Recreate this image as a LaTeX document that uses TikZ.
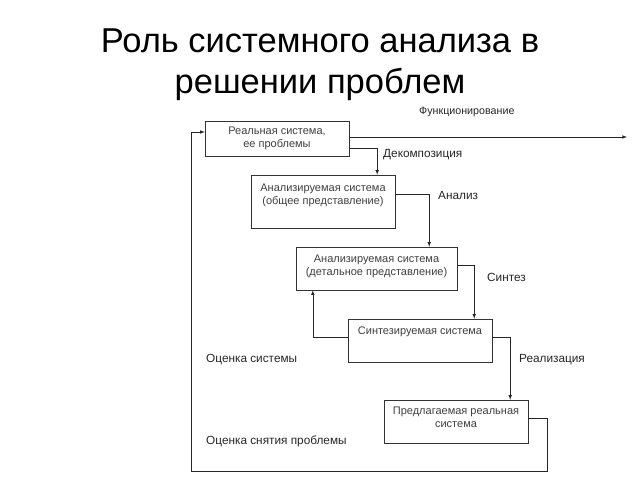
\documentclass[tikz,border=0pt]{standalone}
\usepackage{fontspec}
\setmainfont{Liberation Sans}
\usepackage{tikz}

\begin{document}
\begin{tikzpicture}[x=1pt, y=-1pt, >=latex, auto,
  box/.style={draw=black!80, fill=white, align=center, inner sep=0pt,
    minimum width=144pt, font=\fontsize{11}{13}\selectfont, text=black!75},
  lbl/.style={anchor=west, inner sep=0pt, font=\fontsize{11.8}{14}\selectfont, text=black!85},
  line/.style={draw=black!85, line width=0.6pt}]

  \useasboundingbox (0, 0) rectangle (640, 480);

  % title
  \node[anchor=base, font=\fontsize{34.5}{41}\selectfont] (title1) at (320, 52) {Роль системного анализа в};
  \node[anchor=base, font=\fontsize{34.5}{41}\selectfont] (title2) at (320, 93) {решении проблем};

  % blocks
  \node[box, minimum height=35pt] (real) at (277, 138.5) {Реальная система,\\ее проблемы};
  \node[box, minimum height=53pt, text depth=14pt] (general) at (323, 201.5) {Анализируемая система\\(общее представление)};
  \node[box, minimum width=161pt, minimum height=43pt, text depth=7pt] (detail) at (376.5, 268.5) {Анализируемая система\\(детальное представление)};
  \node[box, minimum height=43pt, text depth=19pt] (synth) at (420, 340.5) {Синтезируемая система};
  \node[box, minimum height=43pt, text depth=8pt] (proposed) at (456, 421.5) {Предлагаемая реальная\\система};

  % labels
  \node[lbl, font=\fontsize{10.7}{13}\selectfont] (funclbl) at (419, 112) {Функционирование};
  \node[lbl] (decomplbl) at (383, 155) {Декомпозиция};
  \node[lbl] (analysislbl) at (438, 195) {Анализ};
  \node[lbl] (synthlbl) at (487, 277) {Синтез};
  \node[lbl] (realizlbl) at (519, 360) {Реализация};
  \node[lbl] (evallbl) at (206, 360) {Оценка системы};
  \node[lbl] (solvelbl) at (206, 441) {Оценка снятия проблемы};

  \coordinate (funcend) at (627, 137);
  \coordinate (loopright) at (547, 471);
  \coordinate (loopleft) at (191, 471);

  % connectors
  \draw[line, ->] ([yshift=1.5pt]real.east) -- (funcend);
  \draw[line, ->] ([yshift=8pt]real.south east) -| ([xshift=-18pt]general.north east);
  \draw[line, ->] ([yshift=7.5pt]general.east) -| ([xshift=-28pt]detail.north east);
  \draw[line, ->] ([yshift=3.5pt]detail.east) -| ([xshift=-18pt]synth.north east);
  \draw[line, ->] ([yshift=3.5pt]synth.west) -| ([xshift=17pt]detail.south west);
  \draw[line, ->] ([yshift=3.5pt]synth.east) -| ([xshift=-18pt]proposed.north east);
  \draw[line, ->] ([yshift=3.5pt]proposed.east) -| (loopright) -- (loopleft) |- ([yshift=6.5pt]real.west);

\end{tikzpicture}
\end{document}
